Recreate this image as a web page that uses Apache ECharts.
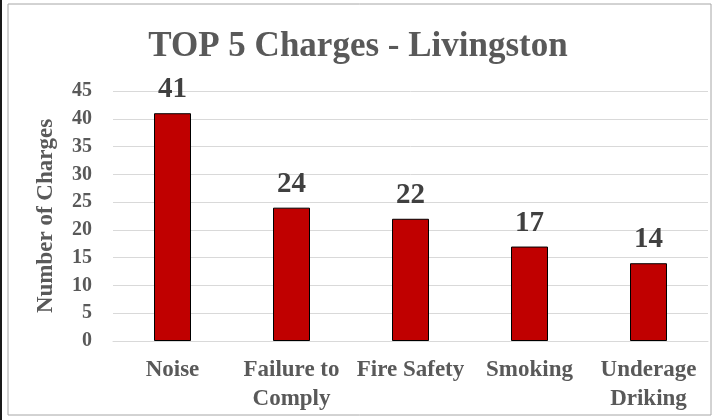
<!DOCTYPE html>
<html>
<head>
<meta charset="utf-8">
<script src="https://cdn.jsdelivr.net/npm/echarts@6/dist/echarts.min.js"></script>
<style>
  html, body { margin: 0; padding: 0; background: #fff; }
  #main { width: 716px; height: 420px; }
</style>
</head>
<body>
<div id="main"></div>
<script>
var categories = ['Noise', 'Failure to\nComply', 'Fire Safety', 'Smoking', 'Underage\nDriking'];
var charges = [41, 24, 22, 17, 14];
var yTicks = [0, 5, 10, 15, 20, 25, 30, 35, 40, 45];

var myChart = echarts.init(document.getElementById('main'));
var serif = '"Liberation Serif", "Times New Roman", serif';

var option = {
    backgroundColor: '#fff',
    graphic: [{
        type: 'rect',
        shape: { x: 8, y: 4, width: 703, height: 411 },
        style: { fill: 'none', stroke: '#a6a6a6', lineWidth: 1 },
        silent: true
    }, {
        type: 'rect',
        shape: { x: 0, y: 0, width: 2, height: 420 },
        style: { fill: '#1a1a1a' },
        silent: true
    }],
    title: {
        text: 'TOP 5 Charges - Livingston',
        left: 'center',
        top: 24,
        textStyle: {
            fontFamily: serif,
            fontWeight: 'bold',
            fontSize: 35,
            color: '#595959'
        }
    },
    grid: {
        left: 113,
        right: 8,
        top: 91,
        bottom: 79
    },
    xAxis: {
        type: 'category',
        data: categories,
        axisLine: { show: true, lineStyle: { color: '#d9d9d9', width: 1 } },
        axisTick: { show: false },
        axisLabel: {
            margin: 15,
            fontFamily: serif,
            fontWeight: 'bold',
            fontSize: 23,
            lineHeight: 29,
            color: '#595959',
            interval: 0
        }
    },
    yAxis: {
        type: 'value',
        min: yTicks[0],
        max: yTicks[yTicks.length - 1],
        interval: 5,
        name: 'Number of Charges',
        nameLocation: 'middle',
        nameGap: 55,
        nameTextStyle: {
            fontFamily: serif,
            fontWeight: 'bold',
            fontSize: 23,
            color: '#595959'
        },
        axisLine: { show: false },
        axisTick: { show: false },
        axisLabel: {
            margin: 21,
            fontFamily: serif,
            fontWeight: 'bold',
            fontSize: 20,
            color: '#595959'
        },
        splitLine: { lineStyle: { color: '#d9d9d9', width: 1 } }
    },
    series: [{
        type: 'bar',
        data: charges,
        barWidth: 37,
        itemStyle: {
            color: '#c00000',
            borderColor: '#000',
            borderWidth: 1
        },
        label: {
            show: true,
            position: 'top',
            distance: 9,
            fontFamily: serif,
            fontWeight: 'bold',
            fontSize: 29,
            color: '#404040'
        }
    }]
};

myChart.setOption(option);
</script>
</body>
</html>
